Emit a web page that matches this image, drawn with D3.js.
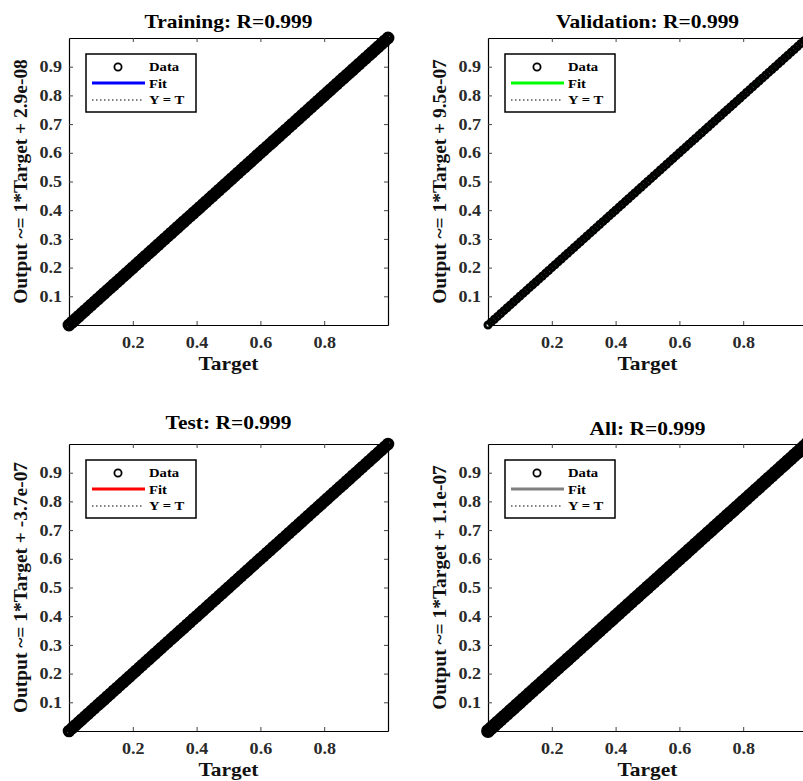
<!DOCTYPE html>
<html>
<head>
<meta charset="utf-8">
<script src="https://cdn.jsdelivr.net/npm/d3@7"></script>
<style>
body { margin: 0; background: #fff; }
svg { display: block; }
text { font-family: "Liberation Serif", "Times New Roman", serif; font-weight: bold; }
</style>
</head>
<body>
<div id="canvas"></div>
<script>
// ----------------------------------------------------------
// DATA -----------------------------------------------------
// ----------------------------------------------------------

var panel_names = ["Training", "Validation", "Test", "All"];
var panel_r = ["0.999", "0.999", "0.999", "0.999"];
var fit_slope = ["1", "1", "1", "1"];
var fit_offset = ["2.9e-08", "9.5e-07", "-3.7e-07", "1.1e-07"];
var fit_colors = ["#0000ff", "#00ff00", "#ff0000", "#808080"];
var legend_terms = ["Data", "Fit", "Y = T"];

var x_ticks = [0.2, 0.4, 0.6, 0.8];
var y_ticks = [0.1, 0.2, 0.3, 0.4, 0.5, 0.6, 0.7, 0.8, 0.9];

// targets read along the diagonal, outputs sit on it (R = 0.999)
var targets = [
0.00, 0.01, 0.02, 0.03, 0.04, 0.05, 0.06, 0.07, 0.08, 0.09,
0.10, 0.11, 0.12, 0.13, 0.14, 0.15, 0.16, 0.17, 0.18, 0.19,
0.20, 0.21, 0.22, 0.23, 0.24, 0.25, 0.26, 0.27, 0.28, 0.29,
0.30, 0.31, 0.32, 0.33, 0.34, 0.35, 0.36, 0.37, 0.38, 0.39,
0.40, 0.41, 0.42, 0.43, 0.44, 0.45, 0.46, 0.47, 0.48, 0.49,
0.50, 0.51, 0.52, 0.53, 0.54, 0.55, 0.56, 0.57, 0.58, 0.59,
0.60, 0.61, 0.62, 0.63, 0.64, 0.65, 0.66, 0.67, 0.68, 0.69,
0.70, 0.71, 0.72, 0.73, 0.74, 0.75, 0.76, 0.77, 0.78, 0.79,
0.80, 0.81, 0.82, 0.83, 0.84, 0.85, 0.86, 0.87, 0.88, 0.89,
0.90, 0.91, 0.92, 0.93, 0.94, 0.95, 0.96, 0.97, 0.98, 0.99,
1.00
];
var outputs = targets;


// ----------------------------------------------------------
// LAYOUT ---------------------------------------------------
// ----------------------------------------------------------

var layout = {
width: 803,
height: 781,
plot_left: [69, 488, 69, 488],
plot_top: [38, 38, 444, 444],
plot_w: 319,
plot_h: 287,
title_gap: [10, 10, 15, 9],
marker_r: [4.3, 3, 4.2, 4.6],
marker_sw: [4.3, 3, 4.2, 4.6],
stretch: 1.13
};

var container = d3.select("#canvas").append("svg")
.attr("width", layout.width)
.attr("height", layout.height)
.style("background-color", "#fff");

// widen text around its anchor point (the reference type is set wide)
function stretch(sel) {
sel.each(function () {
var t = d3.select(this);
var x = +t.attr("x") || 0;
var y = +t.attr("y") || 0;
t.attr("x", 0).attr("y", 0)
.attr("transform", `translate(${x}, ${y}) scale(${layout.stretch}, 1)`);
});
}


// ----------------------------------------------------------
// PANELS ---------------------------------------------------
// ----------------------------------------------------------

panel_names.forEach(function (name, i) {

var x0 = layout.plot_left[i];
var y0 = layout.plot_top[i];
var w = layout.plot_w;
var h = layout.plot_h;

var g = container.append("g")
.attr("class", "panel")
.attr("transform", `translate(${x0}, ${y0})`);

var xScale = d3.scaleLinear().domain([0, 1]).range([0, w]);
var yScale = d3.scaleLinear().domain([0, 1]).range([h, 0]);

// axes with inward ticks
var ax_bottom = g.append("g")
.attr("transform", `translate(0, ${h})`)
.call(d3.axisBottom(xScale).tickValues(x_ticks).tickSizeInner(-4).tickSizeOuter(0).tickPadding(12));
var ax_left = g.append("g")
.call(d3.axisLeft(yScale).tickValues(y_ticks).tickSizeInner(-4).tickSizeOuter(0).tickPadding(7));
var ax_top = g.append("g")
.call(d3.axisTop(xScale).tickValues(x_ticks).tickSizeInner(-4).tickSizeOuter(0).tickFormat(""));
var ax_right = g.append("g")
.attr("transform", `translate(${w}, 0)`)
.call(d3.axisRight(yScale).tickValues(y_ticks).tickSizeInner(-4).tickSizeOuter(0).tickFormat(""));

[ax_bottom, ax_left, ax_top, ax_right].forEach(function (a) {
a.select(".domain").attr("stroke", "#000").attr("stroke-width", 1.2);
a.selectAll(".tick line").attr("stroke", "#444");
a.selectAll(".tick text")
.style("font-size", "16px")
.style("fill", "#2a2a2a")
.call(stretch);
});

// fit line (under the data)
g.append("line")
.attr("x1", xScale(0)).attr("y1", yScale(0))
.attr("x2", xScale(1)).attr("y2", yScale(1))
.attr("stroke", fit_colors[i])
.attr("stroke-width", 2);

// data circles
g.append("g")
.selectAll("circle")
.data(targets)
.enter()
.append("circle")
.attr("cx", (d) => xScale(d))
.attr("cy", (d, k) => yScale(outputs[k]))
.attr("r", layout.marker_r[i])
.attr("fill", "none")
.attr("stroke", "#000")
.attr("stroke-width", layout.marker_sw[i]);

// Y = T dotted
g.append("line")
.attr("x1", xScale(0)).attr("y1", yScale(0))
.attr("x2", xScale(1)).attr("y2", yScale(1))
.attr("stroke", "#000")
.attr("stroke-width", 1)
.attr("stroke-dasharray", "1,2");

// title
g.append("text")
.attr("x", w / 2)
.attr("y", -layout.title_gap[i])
.attr("text-anchor", "middle")
.style("font-size", "19px")
.style("fill", "#000")
.text(`${name}: R=${panel_r[i]}`)
.call(stretch);

// x label
g.append("text")
.attr("x", w / 2)
.attr("y", h + 45)
.attr("text-anchor", "middle")
.style("font-size", "19px")
.style("fill", "#111")
.text("Target")
.call(stretch);

// y label
g.append("text")
.attr("transform", `translate(-42, ${h / 2}) rotate(-90) scale(1.08, 1)`)
.attr("text-anchor", "middle")
.style("font-size", "18px")
.style("fill", "#111")
.text(`Output ~= ${fit_slope[i]}*Target + ${fit_offset[i]}`);

// legend
var lg = g.append("g")
.attr("transform", "translate(17, 16)");
lg.append("rect")
.attr("width", 110)
.attr("height", 58)
.attr("fill", "#fff")
.attr("stroke", "#000")
.attr("stroke-width", 1.5);
lg.append("circle")
.attr("cx", 32).attr("cy", 13)
.attr("r", 3.6)
.attr("fill", "none")
.attr("stroke", "#000")
.attr("stroke-width", 1.8);
lg.append("line")
.attr("x1", 6).attr("x2", 59)
.attr("y1", 29).attr("y2", 29)
.attr("stroke", fit_colors[i])
.attr("stroke-width", 3);
lg.append("line")
.attr("x1", 6).attr("x2", 56)
.attr("y1", 46).attr("y2", 46)
.attr("stroke", "#000")
.attr("stroke-width", 1)
.attr("stroke-dasharray", "1.5,2.5");
lg.selectAll(".legend_text")
.data(legend_terms)
.enter()
.append("text")
.attr("class", "legend_text")
.attr("x", 63)
.attr("y", (d, k) => 17 + k * 16.5)
.style("font-size", "13px")
.style("fill", "#000")
.text((d) => d)
.call(stretch);
});
</script>
</body>
</html>
